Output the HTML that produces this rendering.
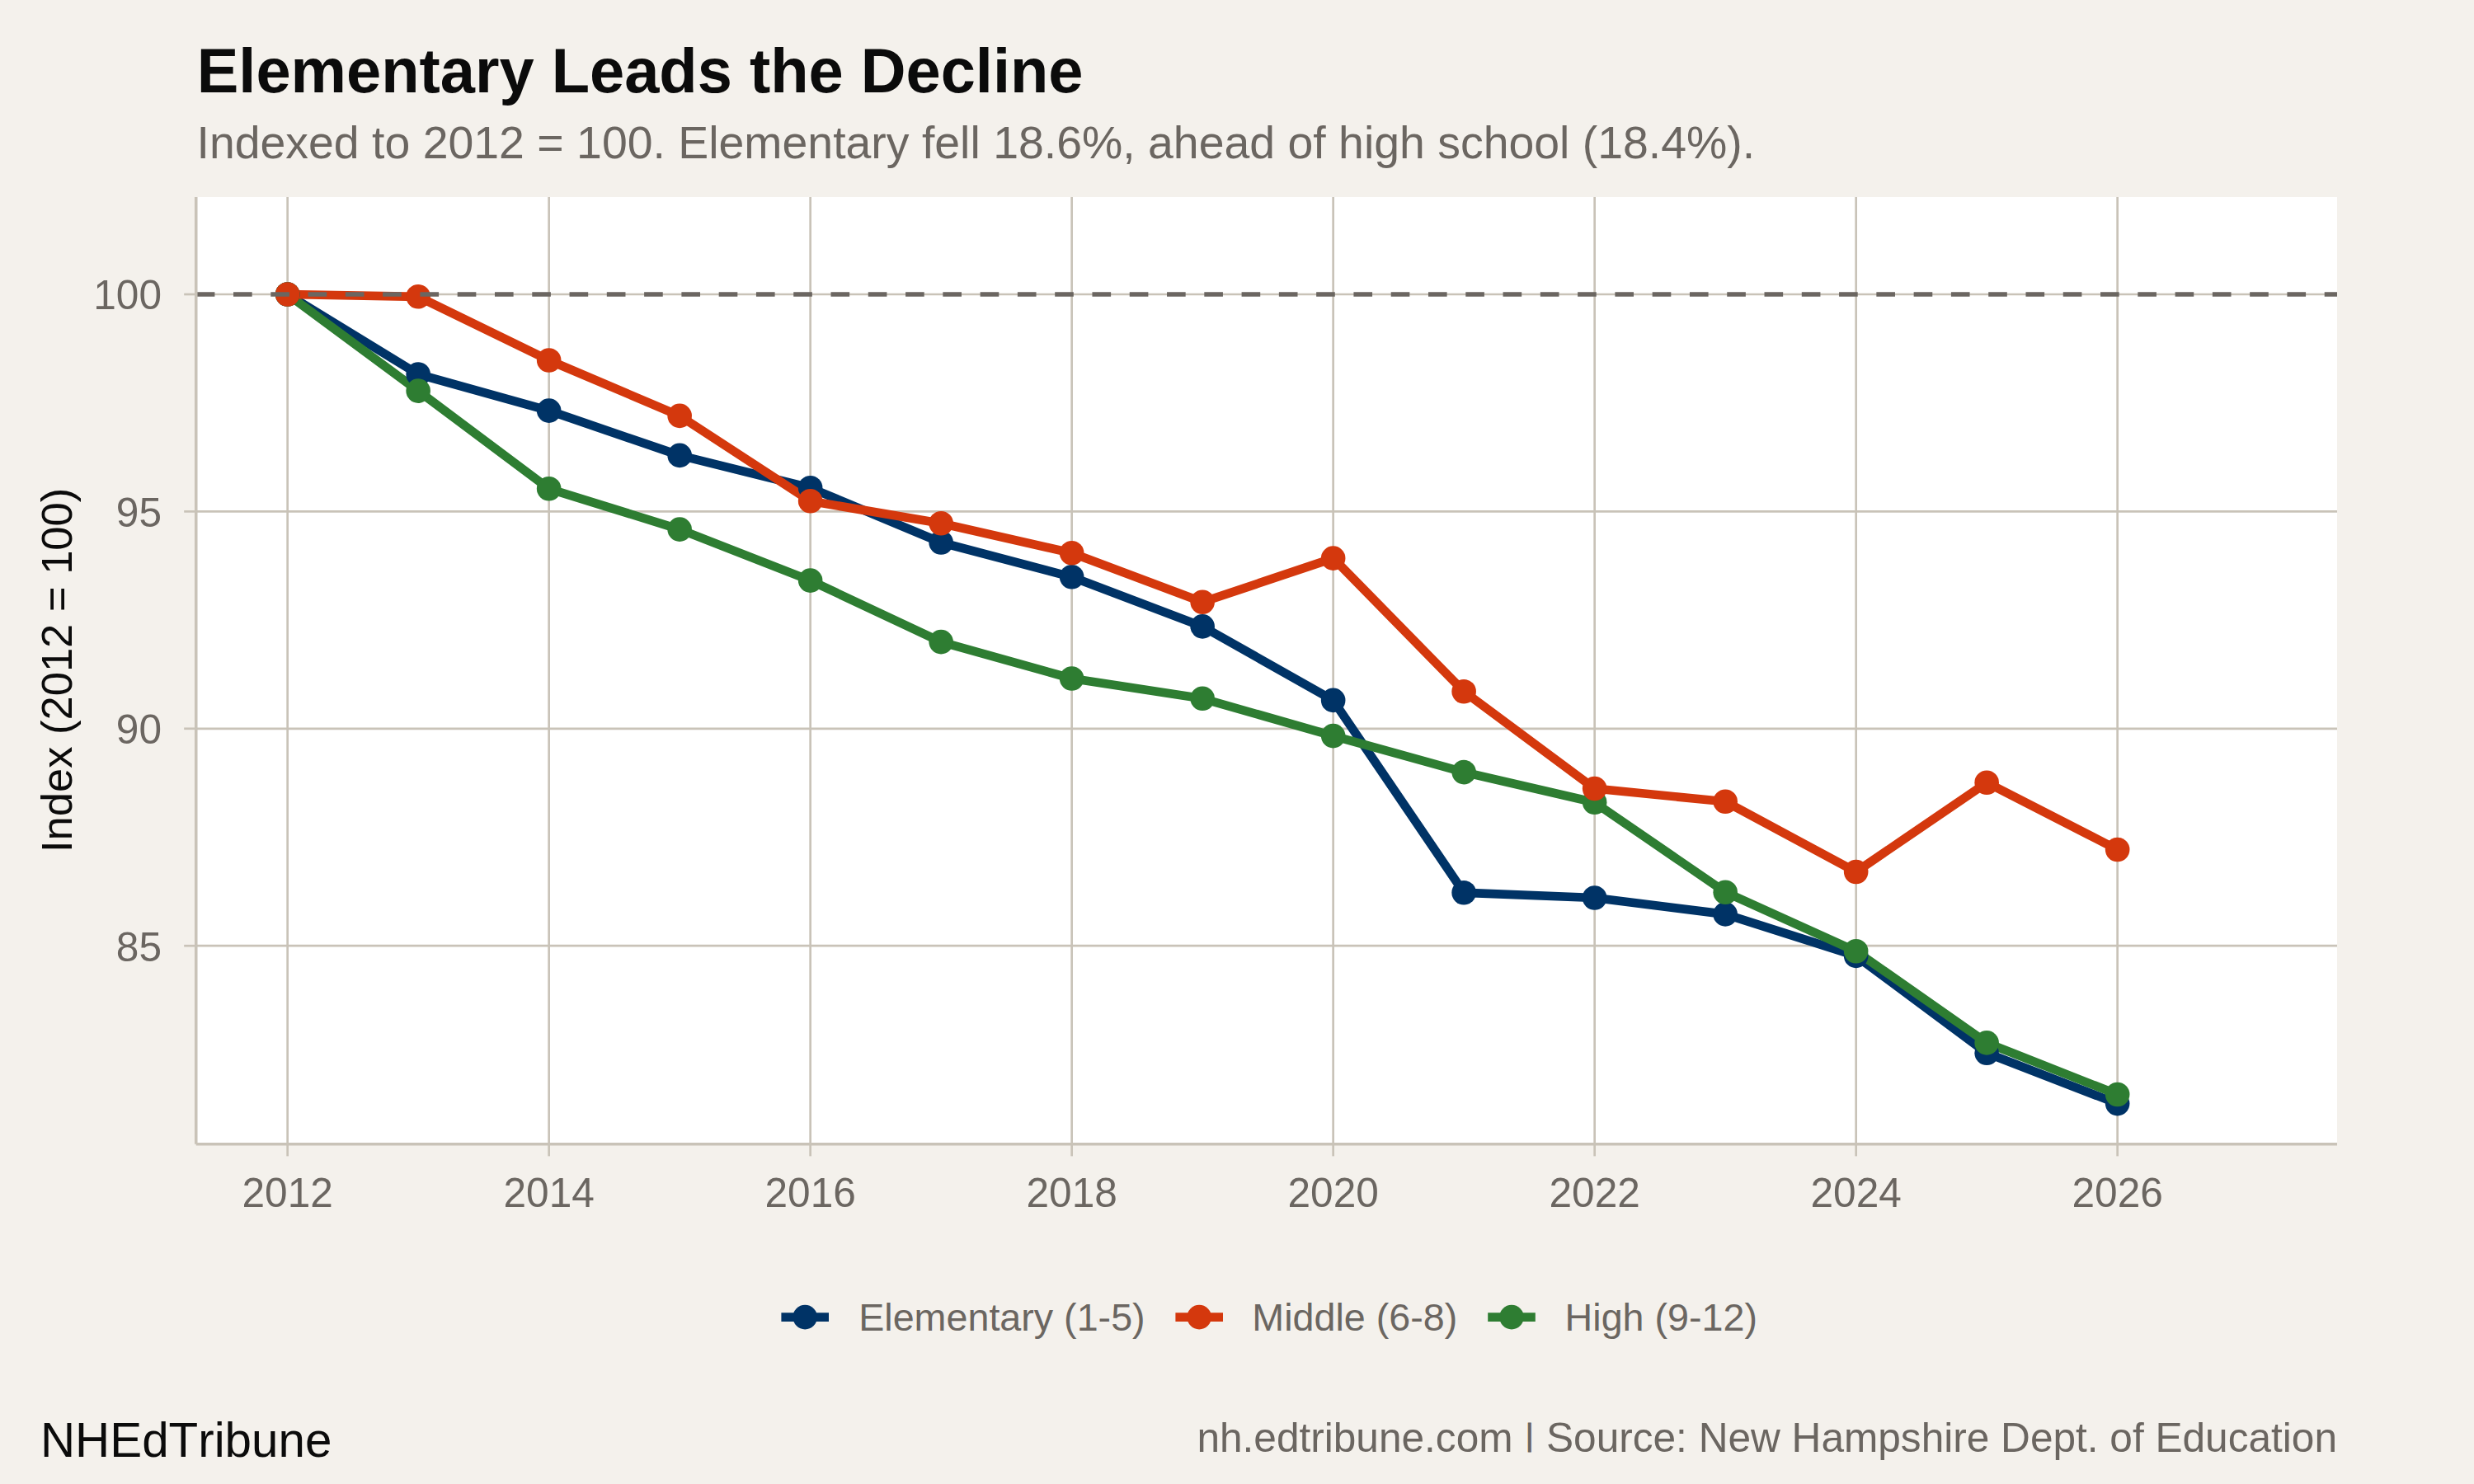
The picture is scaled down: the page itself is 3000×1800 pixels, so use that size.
<!DOCTYPE html>
<html lang="en">
<head>
<meta charset="utf-8">
<title>Elementary Leads the Decline</title>
<style>
html,body{margin:0;padding:0;background:#F4F1EC;}
body{width:3000px;height:1800px;overflow:hidden;}
svg{display:block;}
text{font-family:"Liberation Sans", Arial, Helvetica, sans-serif;font-kerning:none;}
</style>
</head>
<body>
<svg width="3000" height="1800" viewBox="0 0 3000 1800">
<rect x="0" y="0" width="3000" height="1800" fill="#F4F1EC"/>
<rect x="237.75" y="239.0" width="2596.25" height="1148.8" fill="#FFFFFF"/>

<g stroke="#C9C3B8" stroke-width="2.67" fill="none">
<line x1="237.75" x2="2834.0" y1="1147.20" y2="1147.20"/>
<line x1="237.75" x2="2834.0" y1="883.80" y2="883.80"/>
<line x1="237.75" x2="2834.0" y1="620.40" y2="620.40"/>
<line x1="237.75" x2="2834.0" y1="357.00" y2="357.00"/>
<line x1="348.65" x2="348.65" y1="239.0" y2="1387.8"/>
<line x1="665.65" x2="665.65" y1="239.0" y2="1387.8"/>
<line x1="982.65" x2="982.65" y1="239.0" y2="1387.8"/>
<line x1="1299.65" x2="1299.65" y1="239.0" y2="1387.8"/>
<line x1="1616.65" x2="1616.65" y1="239.0" y2="1387.8"/>
<line x1="1933.65" x2="1933.65" y1="239.0" y2="1387.8"/>
<line x1="2250.65" x2="2250.65" y1="239.0" y2="1387.8"/>
<line x1="2567.65" x2="2567.65" y1="239.0" y2="1387.8"/>
</g>
<polyline points="348.65,357.00 507.15,454.00 665.65,498.10 824.15,552.40 982.65,591.80 1141.15,658.00 1299.65,699.80 1458.15,759.90 1616.65,849.40 1775.15,1082.70 1933.65,1089.00 2092.15,1108.90 2250.65,1159.40 2409.15,1277.20 2567.65,1338.60" fill="none" stroke="#003366" stroke-width="10.67" stroke-linejoin="round" stroke-linecap="butt"/>
<polyline points="348.65,357.00 507.15,474.10 665.65,592.80 824.15,642.10 982.65,704.10 1141.15,778.60 1299.65,823.00 1458.15,847.30 1616.65,892.60 1775.15,936.60 1933.65,973.30 2092.15,1082.20 2250.65,1153.80 2409.15,1264.90 2567.65,1327.50" fill="none" stroke="#2E7D32" stroke-width="10.67" stroke-linejoin="round" stroke-linecap="butt"/>
<polyline points="348.65,357.00 507.15,359.80 665.65,437.00 824.15,504.40 982.65,607.80 1141.15,634.80 1299.65,670.70 1458.15,730.30 1616.65,677.10 1775.15,838.70 1933.65,956.50 2092.15,972.30 2250.65,1057.50 2409.15,949.30 2567.65,1030.50" fill="none" stroke="#D4380D" stroke-width="10.67" stroke-linejoin="round" stroke-linecap="butt"/>
<circle cx="348.65" cy="357.00" r="14.8" fill="#003366"/>
<circle cx="348.65" cy="357.00" r="14.8" fill="#2E7D32"/>
<circle cx="348.65" cy="357.00" r="14.8" fill="#D4380D"/>
<circle cx="507.15" cy="454.00" r="14.8" fill="#003366"/>
<circle cx="507.15" cy="474.10" r="14.8" fill="#2E7D32"/>
<circle cx="507.15" cy="359.80" r="14.8" fill="#D4380D"/>
<circle cx="665.65" cy="498.10" r="14.8" fill="#003366"/>
<circle cx="665.65" cy="592.80" r="14.8" fill="#2E7D32"/>
<circle cx="665.65" cy="437.00" r="14.8" fill="#D4380D"/>
<circle cx="824.15" cy="552.40" r="14.8" fill="#003366"/>
<circle cx="824.15" cy="642.10" r="14.8" fill="#2E7D32"/>
<circle cx="824.15" cy="504.40" r="14.8" fill="#D4380D"/>
<circle cx="982.65" cy="591.80" r="14.8" fill="#003366"/>
<circle cx="982.65" cy="704.10" r="14.8" fill="#2E7D32"/>
<circle cx="982.65" cy="607.80" r="14.8" fill="#D4380D"/>
<circle cx="1141.15" cy="658.00" r="14.8" fill="#003366"/>
<circle cx="1141.15" cy="778.60" r="14.8" fill="#2E7D32"/>
<circle cx="1141.15" cy="634.80" r="14.8" fill="#D4380D"/>
<circle cx="1299.65" cy="699.80" r="14.8" fill="#003366"/>
<circle cx="1299.65" cy="823.00" r="14.8" fill="#2E7D32"/>
<circle cx="1299.65" cy="670.70" r="14.8" fill="#D4380D"/>
<circle cx="1458.15" cy="759.90" r="14.8" fill="#003366"/>
<circle cx="1458.15" cy="847.30" r="14.8" fill="#2E7D32"/>
<circle cx="1458.15" cy="730.30" r="14.8" fill="#D4380D"/>
<circle cx="1616.65" cy="849.40" r="14.8" fill="#003366"/>
<circle cx="1616.65" cy="892.60" r="14.8" fill="#2E7D32"/>
<circle cx="1616.65" cy="677.10" r="14.8" fill="#D4380D"/>
<circle cx="1775.15" cy="1082.70" r="14.8" fill="#003366"/>
<circle cx="1775.15" cy="936.60" r="14.8" fill="#2E7D32"/>
<circle cx="1775.15" cy="838.70" r="14.8" fill="#D4380D"/>
<circle cx="1933.65" cy="1089.00" r="14.8" fill="#003366"/>
<circle cx="1933.65" cy="973.30" r="14.8" fill="#2E7D32"/>
<circle cx="1933.65" cy="956.50" r="14.8" fill="#D4380D"/>
<circle cx="2092.15" cy="1108.90" r="14.8" fill="#003366"/>
<circle cx="2092.15" cy="1082.20" r="14.8" fill="#2E7D32"/>
<circle cx="2092.15" cy="972.30" r="14.8" fill="#D4380D"/>
<circle cx="2250.65" cy="1159.40" r="14.8" fill="#003366"/>
<circle cx="2250.65" cy="1153.80" r="14.8" fill="#2E7D32"/>
<circle cx="2250.65" cy="1057.50" r="14.8" fill="#D4380D"/>
<circle cx="2409.15" cy="1277.20" r="14.8" fill="#003366"/>
<circle cx="2409.15" cy="1264.90" r="14.8" fill="#2E7D32"/>
<circle cx="2409.15" cy="949.30" r="14.8" fill="#D4380D"/>
<circle cx="2567.65" cy="1338.60" r="14.8" fill="#003366"/>
<circle cx="2567.65" cy="1327.50" r="14.8" fill="#2E7D32"/>
<circle cx="2567.65" cy="1030.50" r="14.8" fill="#D4380D"/>
<line x1="237.75" x2="2834.0" y1="357.0" y2="357.0" stroke="#6B6661" stroke-width="5.5" stroke-dasharray="22.64 22.64"/>
<g stroke="#C9C3B8" fill="none">
<line x1="237.75" x2="237.75" y1="239.0" y2="1387.8" stroke-width="3.56"/>
<line x1="237.75" x2="2834.0" y1="1387.8" y2="1387.8" stroke-width="3.56"/>
<line x1="223.17" x2="237.75" y1="1147.20" y2="1147.20" stroke-width="2.67"/>
<line x1="223.17" x2="237.75" y1="883.80" y2="883.80" stroke-width="2.67"/>
<line x1="223.17" x2="237.75" y1="620.40" y2="620.40" stroke-width="2.67"/>
<line x1="223.17" x2="237.75" y1="357.00" y2="357.00" stroke-width="2.67"/>
<line x1="348.65" x2="348.65" y1="1387.8" y2="1402.38" stroke-width="2.67"/>
<line x1="665.65" x2="665.65" y1="1387.8" y2="1402.38" stroke-width="2.67"/>
<line x1="982.65" x2="982.65" y1="1387.8" y2="1402.38" stroke-width="2.67"/>
<line x1="1299.65" x2="1299.65" y1="1387.8" y2="1402.38" stroke-width="2.67"/>
<line x1="1616.65" x2="1616.65" y1="1387.8" y2="1402.38" stroke-width="2.67"/>
<line x1="1933.65" x2="1933.65" y1="1387.8" y2="1402.38" stroke-width="2.67"/>
<line x1="2250.65" x2="2250.65" y1="1387.8" y2="1402.38" stroke-width="2.67"/>
<line x1="2567.65" x2="2567.65" y1="1387.8" y2="1402.38" stroke-width="2.67"/>
</g>
<g fill="#6B6661" font-size="49.58">
<text x="196.0" y="1165.60" text-anchor="end">85</text>
<text x="196.0" y="902.20" text-anchor="end">90</text>
<text x="196.0" y="638.80" text-anchor="end">95</text>
<text x="196.0" y="375.40" text-anchor="end">100</text>
<text x="348.65" y="1464.0" text-anchor="middle">2012</text>
<text x="665.65" y="1464.0" text-anchor="middle">2014</text>
<text x="982.65" y="1464.0" text-anchor="middle">2016</text>
<text x="1299.65" y="1464.0" text-anchor="middle">2018</text>
<text x="1616.65" y="1464.0" text-anchor="middle">2020</text>
<text x="1933.65" y="1464.0" text-anchor="middle">2022</text>
<text x="2250.65" y="1464.0" text-anchor="middle">2024</text>
<text x="2567.65" y="1464.0" text-anchor="middle">2026</text>
</g>
<text transform="translate(87.4 812.9) rotate(-90)" text-anchor="middle" font-size="52.5" fill="#0B0B0B">Index (2012 = 100)</text>
<text x="238.8" y="111.8" font-size="75.83" font-weight="bold" fill="#0B0B0B">Elementary Leads the Decline</text>
<text x="238.5" y="192" font-size="55.42" fill="#6B6661">Indexed to 2012 = 100. Elementary fell 18.6%, ahead of high school (18.4%).</text>
<line x1="947.40" x2="1005.00" y1="1597.6" y2="1597.6" stroke="#003366" stroke-width="10.67"/>
<circle cx="976.2" cy="1597.6" r="14.8" fill="#003366"/>
<text x="1041.2" y="1614.1" font-size="46.67" fill="#6B6661">Elementary (1-5)</text>
<line x1="1425.40" x2="1483.00" y1="1597.6" y2="1597.6" stroke="#D4380D" stroke-width="10.67"/>
<circle cx="1454.2" cy="1597.6" r="14.8" fill="#D4380D"/>
<text x="1518.3" y="1614.1" font-size="46.67" fill="#6B6661">Middle (6-8)</text>
<line x1="1804.20" x2="1861.80" y1="1597.6" y2="1597.6" stroke="#2E7D32" stroke-width="10.67"/>
<circle cx="1833.0" cy="1597.6" r="14.8" fill="#2E7D32"/>
<text x="1897.6" y="1614.1" font-size="46.67" fill="#6B6661">High (9-12)</text>
<text x="49" y="1767.3" font-size="58.33" fill="#0B0B0B">NHEdTribune</text>
<text x="2834" y="1760.8" font-size="49.58" text-anchor="end" fill="#6B6661">nh.edtribune.com <tspan font-size="36.7" dx="1.7" dy="-7.4" stroke="#6B6661" stroke-width="1">|</tspan><tspan dx="1.7" dy="7.4"> Source: New Hampshire Dept. of Education</tspan></text>
</svg>
</body>
</html>
